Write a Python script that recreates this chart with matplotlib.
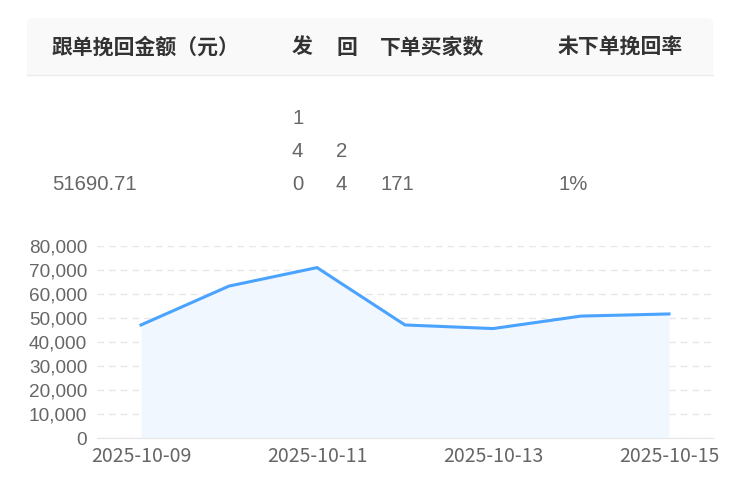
import numpy as np
import matplotlib
matplotlib.use('Agg')
import matplotlib.pyplot as plt
from matplotlib.patches import FancyBboxPatch, Rectangle
from matplotlib.ticker import FuncFormatter

plt.rcParams['font.family'] = ['Noto Sans CJK SC', 'DejaVu Sans']

# ── data ──────────────────────────────────────────────────────────────────────

headers    = ['跟单挽回金额（元）', '发', '回', '下单买家数', '未下单挽回率']
row_values = ['51690.71', '140', '24', '171', '1%']
narrow_col = [False, True, True, False, False]   # these columns wrap char by char

dates   = ['2025-10-09', '2025-10-10', '2025-10-11', '2025-10-12',
           '2025-10-13', '2025-10-14', '2025-10-15']
amounts = [47100, 63300, 71000, 47100, 45600, 50800, 51690.71]
yticks  = [0, 10000, 20000, 30000, 40000, 50000, 60000, 70000, 80000]

# ── layout (pixels) ───────────────────────────────────────────────────────────

W, H   = 744, 486
col_x  = [52, 292, 336, 380, 558]
head_y = 47
row_y  = 184.5
line_h = 33

fig = plt.figure(figsize=(W / 100, H / 100), dpi=100)

# overlay axes in pixel units for the table
bg = fig.add_axes([0, 0, 1, 1])
bg.set_xlim(0, W)
bg.set_ylim(H, 0)
bg.axis('off')

bg.add_patch(FancyBboxPatch((27, 18), 686, 57, boxstyle='round,pad=0,rounding_size=6',
                            fc='#f9f9f9', ec='none'))
bg.add_patch(Rectangle((27, 55), 686, 20, fc='#f9f9f9', ec='none'))
bg.plot([27, 713], [75, 75], color='#ececec', lw=1)

for x, h in zip(col_x, headers):
    bg.text(x, head_y, h, fontsize=15, fontweight='bold', color='#333333',
            ha='left', va='center')

for x, v, narrow in zip(col_x, row_values, narrow_col):
    parts = list(v) if narrow else [v]
    for k, p in enumerate(reversed(parts)):
        bg.text(x, row_y - k * line_h, p, fontsize=14.7, color='#666666',
                family='Liberation Sans', ha='left', va='center')

# ── line chart ────────────────────────────────────────────────────────────────

ax = fig.add_axes([97 / W, (H - 438) / H, 616 / W, 192 / H])
xs = np.arange(len(dates))
ax.fill_between(xs, amounts, 0, color='#f0f7ff', lw=0, zorder=1)
ax.plot(xs, amounts, color='#4aa3ff', lw=2.2, solid_joinstyle='miter', zorder=3)

ax.set_xlim(-0.5, len(dates) - 0.5)
ax.set_ylim(0, 80000)
ax.set_yticks(yticks)
ax.yaxis.set_major_formatter(FuncFormatter(lambda v, _: f'{int(v):,}'))
ax.set_xticks(xs[::2])
ax.set_xticklabels(dates[::2])

ax.grid(axis='y', color='#e6e6e6', lw=1, linestyle=(0, (4.8, 3.6)), zorder=0)
ax.set_axisbelow(True)
for s in ['top', 'right', 'left']:
    ax.spines[s].set_visible(False)
ax.spines['bottom'].set_color('#e6e6e6')
ax.tick_params(length=0)
ax.tick_params(axis='y', pad=7, labelsize=13.7, labelcolor='#666666')
ax.tick_params(axis='x', pad=6, labelsize=14, labelcolor='#666666')
for t in ax.get_yticklabels():
    t.set_family('Liberation Sans')

fig.savefig('out.png', dpi=100)
